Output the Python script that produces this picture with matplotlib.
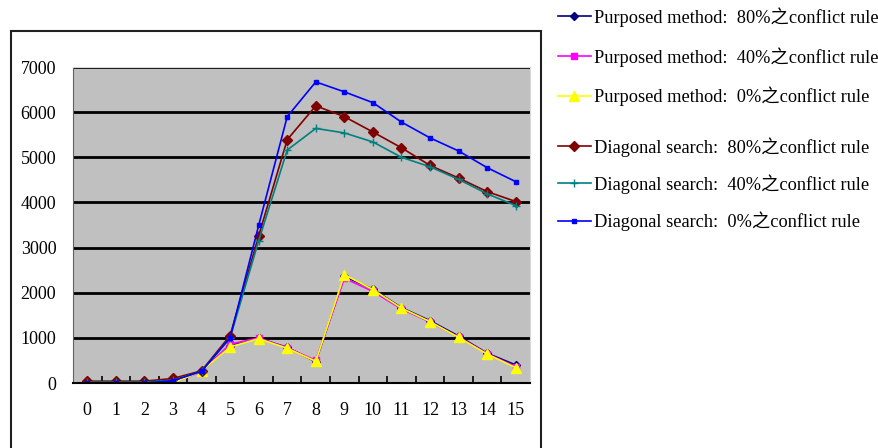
import matplotlib
matplotlib.use("Agg")
import matplotlib.pyplot as plt
from matplotlib.patches import Rectangle

plt.rcParams['font.family'] = ['Liberation Serif', 'Noto Sans CJK TC']

steps = list(range(16))

# proposed method, three conflict-rule ratios
pm_80 = [0, 0, 0, 20, 260, 830, 990, 790, 470, 2360, 2080, 1670, 1380, 1040, 660, 400]
pm_40 = [0, 0, 0, 10, 250, 860, 1000, 780, 500, 2320, 2030, 1640, 1350, 1020, 650, 360]
pm_0 = [0, 0, 0, 0, 260, 800, 980, 770, 480, 2400, 2070, 1660, 1360, 1010, 640, 340]

# diagonal search, three conflict-rule ratios
ds_80 = [40, 40, 40, 100, 270, 1050, 3260, 5390, 6140, 5900, 5560, 5210, 4820, 4540, 4240, 4020]
ds_40 = [20, 20, 20, 60, 260, 1000, 3150, 5160, 5640, 5540, 5340, 5000, 4790, 4510, 4190, 3930]
ds_0 = [0, 0, 0, 50, 260, 1000, 3490, 5900, 6670, 6450, 6210, 5780, 5430, 5140, 4770, 4460]

labels_pm = ['Purposed method:  80%之conflict rule',
             'Purposed method:  40%之conflict rule',
             'Purposed method:  0%之conflict rule']
labels_ds = ['Diagonal search:  80%之conflict rule',
             'Diagonal search:  40%之conflict rule',
             'Diagonal search:  0%之conflict rule']

fig = plt.figure(figsize=(8.79, 4.48), dpi=100)
ax = fig.add_axes([73 / 879, 1 - 383 / 448, 457 / 879, 316 / 448])
ax.set_facecolor('#c0c0c0')

# outer chart frame
fig.patches.append(Rectangle((11 / 879, -0.1), 530 / 879, 1.1 - 31 / 448,
                             transform=fig.transFigure, fill=False,
                             edgecolor='#202020', linewidth=1.5))

h1, = ax.plot(steps, pm_80, color='#000080', marker='D', markersize=4, lw=1.2)
h2, = ax.plot(steps, pm_40, color='#ff00ff', marker='s', markersize=5, lw=1.2)
h3, = ax.plot(steps, pm_0, color='#ffff00', marker='^', markersize=7, lw=1.2)
h4, = ax.plot(steps, ds_80, color='#800000', marker='D', markersize=5.5, lw=1.2)
h5, = ax.plot(steps, ds_40, color='#008080', marker='+', markersize=6, lw=1.2)
h6, = ax.plot(steps, ds_0, color='#0000ff', marker='s', markersize=3, lw=1.2)

ax.set_xlim(-0.5, 15.5)
ax.set_ylim(0, 7000)
ax.set_yticks(range(0, 7001, 1000))
ax.yaxis.grid(True, color='black', linewidth=2)
ax.set_axisbelow(True)
ax.set_xticks(steps)
ax.set_xticks([i + 0.5 for i in range(15)], minor=True)
ax.tick_params(axis='x', which='major', length=0, pad=14, labelsize=13)
ax.tick_params(axis='x', which='minor', length=5, direction='in', color='black', width=1.2)
ax.tick_params(axis='y', length=0, pad=12, labelsize=13)

for side in ['top', 'right']:
    ax.spines[side].set_color('#d8d8d8')
ax.spines['left'].set_color('#606060')
ax.spines['bottom'].set_color('black')
ax.spines['bottom'].set_linewidth(1.5)

leg_kw = dict(frameon=False, fontsize=13.2, handlelength=1.8, handletextpad=0.15,
              borderaxespad=0, borderpad=0)
fig.legend([h1, h2, h3], labels_pm, loc='upper left', labelspacing=1.1,
           bbox_to_anchor=(558 / 879, 1 - 7 / 448), **leg_kw)
fig.legend([h4, h5, h6], labels_ds, loc='upper left', labelspacing=0.95,
           bbox_to_anchor=(558 / 879, 1 - 137 / 448), **leg_kw)

fig.savefig('out.png', dpi=100)
